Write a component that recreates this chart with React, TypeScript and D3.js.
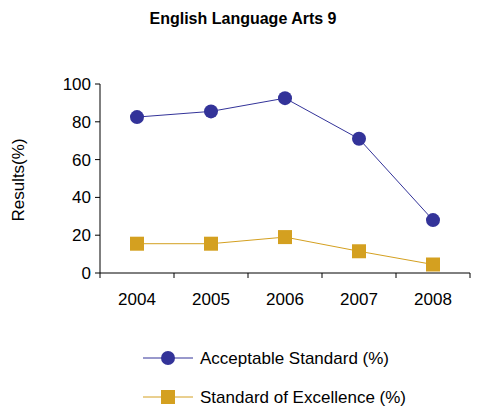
import * as d3 from "d3";

const years = ["2004", "2005", "2006", "2007", "2008"];
const acceptable = [82.5, 85.5, 92.5, 71, 28];
const excellence = [15.5, 15.5, 19, 11.5, 4.5];
const yTicks = [0, 20, 40, 60, 80, 100];

const BLUE = "#333399";
const GOLD = "#D4A020";

export default function App() {
  const x = d3.scaleBand().domain(years).range([100, 470]);
  const y = d3.scaleLinear().domain([0, 100]).range([273, 84]);
  const cx = (d: string) => (x(d) ?? 0) + x.bandwidth() / 2;
  const line = d3.line<number>().x((_, i) => cx(years[i])).y((v) => y(v));
  const font = "'Liberation Sans', Arial, sans-serif";
  return (
    <svg width={479} height={410} style={{ position: "absolute", left: 0, top: 0 }} fontFamily={font}>
      <rect width={479} height={410} fill="#fff" />
      <text x={243} y={24} textAnchor="middle" fontWeight="bold" fontSize={16}>English Language Arts 9</text>
      <line x1={100} x2={100} y1={84} y2={273} stroke="#000" />
      <line x1={100} x2={470} y1={273} y2={273} stroke="#000" />
      {yTicks.map((t) => (
        <g key={t}>
          <line x1={95} x2={100} y1={y(t)} y2={y(t)} stroke="#000" />
          <text x={91} y={y(t) + 6} textAnchor="end" fontSize={17}>{t}</text>
        </g>
      ))}
      {years.map((yr, i) => (
        <g key={yr}>
          <line x1={x(yr)} x2={x(yr)} y1={273} y2={278} stroke="#000" />
          {i === years.length - 1 && <line x1={470} x2={470} y1={273} y2={278} stroke="#000" />}
          <text x={cx(yr)} y={305} textAnchor="middle" fontSize={17}>{yr}</text>
        </g>
      ))}
      <text transform="translate(24,180) rotate(-90)" textAnchor="middle" fontSize={17}>Results(%)</text>
      <path d={line(acceptable) ?? ""} fill="none" stroke={BLUE} strokeWidth={1} />
      {acceptable.map((v, i) => (
        <circle key={i} cx={cx(years[i])} cy={y(v)} r={7} fill={BLUE} />
      ))}
      <path d={line(excellence) ?? ""} fill="none" stroke={GOLD} strokeWidth={1} />
      {excellence.map((v, i) => (
        <rect key={i} x={cx(years[i]) - 7} y={y(v) - 7} width={14} height={14} fill={GOLD} />
      ))}
      <line x1={143} x2={193} y1={358} y2={358} stroke={BLUE} />
      <circle cx={168} cy={358} r={7} fill={BLUE} />
      <text x={200} y={364} fontSize={17}>Acceptable Standard (%)</text>
      <line x1={143} x2={193} y1={397} y2={397} stroke={GOLD} />
      <rect x={161} y={390} width={14} height={14} fill={GOLD} />
      <text x={200} y={403} fontSize={17}>Standard of Excellence (%)</text>
    </svg>
  );
}
